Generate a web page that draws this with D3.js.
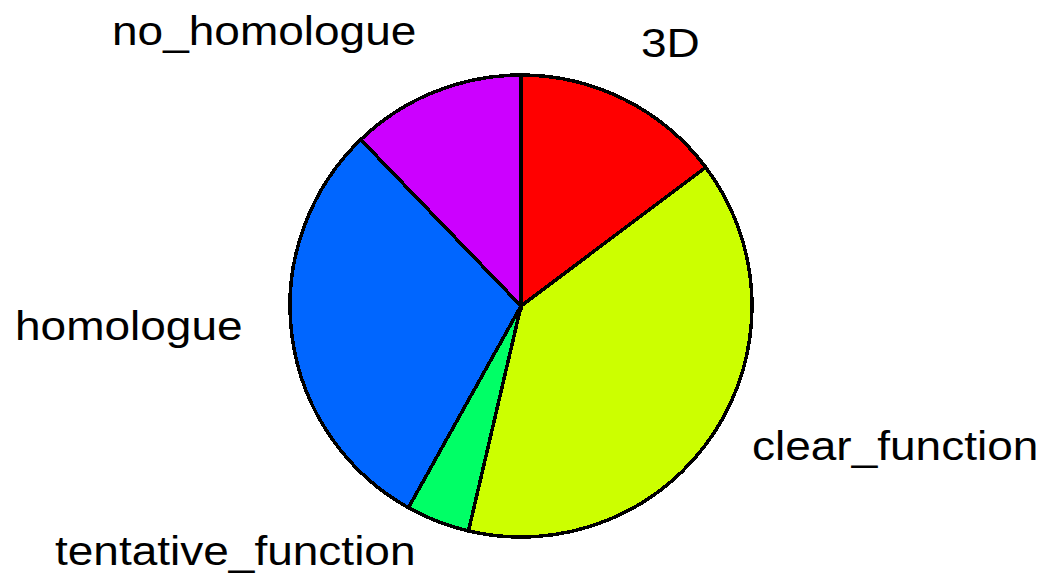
<!DOCTYPE html>
<html>
<head>
<meta charset="utf-8">
<script src="https://cdn.jsdelivr.net/npm/d3@7"></script>
<style>
  html, body { margin: 0; padding: 0; background: #ffffff; }
  svg { display: block; }
  .label { font-family: "Liberation Sans", Arial, sans-serif; font-size: 40px; fill: #000; }
</style>
</head>
<body>
<svg id="chart" width="1047" height="573"></svg>
<script>
// Slice categories, in drawing order (clockwise from 12 o'clock)
const categories = ["3D", "clear_function", "tentative_function", "homologue", "no_homologue"];
// Share of each category (percent)
const values = [14.75, 38.9, 4.45, 29.7, 12.2];
// Slice fill colours
const colors = ["#ff0000", "#ccff00", "#00ff66", "#0066ff", "#cc00ff"];

// Label placement: left edge and baseline of each label
const labelPos = {
  "3D":                 [641, 57],
  "clear_function":     [752, 460],
  "tentative_function": [55, 565],
  "homologue":          [15, 340],
  "no_homologue":       [112, 45]
};

const width = 1047, height = 573;
const cx = 521, cy = 306, radius = 231;
const stretchX = 1.15;

const svg = d3.select("#chart");

const color = d3.scaleOrdinal().domain(categories).range(colors);

const pie = d3.pie()
  .sort(null)
  .value((d, i) => values[i]);

const arc = d3.arc().innerRadius(0).outerRadius(radius);

const g = svg.append("g").attr("transform", `translate(${cx},${cy})`);

g.selectAll("path")
  .data(pie(categories))
  .join("path")
  .attr("d", arc)
  .attr("fill", d => color(d.data))
  .attr("stroke", "#000")
  .attr("stroke-width", 3.5)
  .attr("stroke-linejoin", "miter")
  .attr("shape-rendering", "crispEdges");

svg.selectAll("text.label")
  .data(categories)
  .join("text")
  .attr("class", "label")
  .attr("transform", d => `translate(${labelPos[d][0]},${labelPos[d][1]}) scale(${stretchX},1)`)
  .text(d => d);
</script>
</body>
</html>
